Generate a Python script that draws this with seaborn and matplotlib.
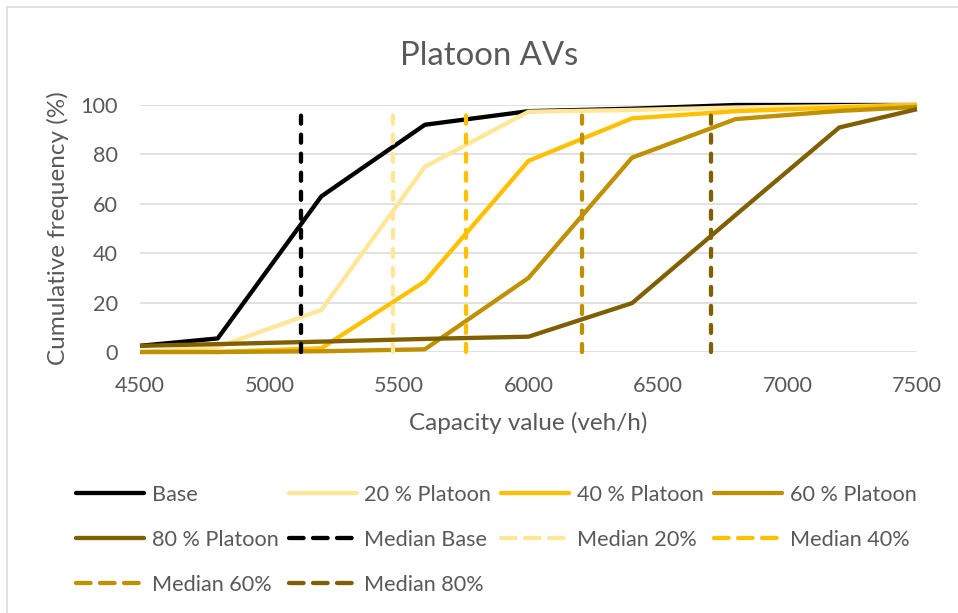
import matplotlib
matplotlib.use("Agg")
import matplotlib.pyplot as plt
from matplotlib.lines import Line2D
import seaborn as sns
import pandas as pd

# Capacity values (veh/h) and cumulative frequencies (%) per scenario
capacity = [4500, 4800, 5200, 5600, 6000, 6400, 6800, 7200, 7500]
base = [2.5, 5.5, 63, 92, 97.5, 98.5, 100, 100, 100]
platoon_20 = [0, 2, 17, 75, 97.3, 98, 99, 99.5, 100]
platoon_40 = [0, 0, 1.5, 28.6, 77.4, 94.6, 97.5, 99, 100]
platoon_60 = [0, 0, 0.3, 1.1, 30, 78.7, 94.3, 97.6, 99.2]
platoon_80 = [2.5, 3.2, 4.2, 5.3, 6.2, 19.8, 55.5, 90.9, 98.3]

series_names = ["Base", "20 % Platoon", "40 % Platoon", "60 % Platoon", "80 % Platoon"]
median_names = ["Median Base", "Median 20%", "Median 40%", "Median 60%", "Median 80%"]
medians = [5120, 5475, 5760, 6205, 6705]
colors = ["#000000", "#FFE699", "#FFC000", "#BF9000", "#7F6000"]

x_ticks = [4500, 5000, 5500, 6000, 6500, 7000, 7500]
y_ticks = [0, 20, 40, 60, 80, 100]

W, H = 958, 613
TEXT = "#595959"

sns.set_theme(style="white")
plt.rcParams["font.family"] = ["Lato", "DejaVu Sans"]
plt.rcParams["lines.scale_dashes"] = False

df = pd.DataFrame({
    "capacity": capacity * 5,
    "freq": base + platoon_20 + platoon_40 + platoon_60 + platoon_80,
    "scenario": sum([[n] * len(capacity) for n in series_names], []),
})

fig = plt.figure(figsize=(W / 100, H / 100), dpi=100)
ax = fig.add_axes([140 / W, 1 - 352 / H, (917 - 140) / W, (352 - 105) / H])

sns.lineplot(data=df, x="capacity", y="freq", hue="scenario",
             hue_order=series_names, palette=colors, lw=3.1,
             legend=False, ax=ax, sort=False, clip_on=False,
             solid_joinstyle="round", solid_capstyle="butt")

for m, c in zip(medians, colors):
    ax.vlines(m, 0, 100, colors=c, lw=3.1, linestyles=(0, (5.8, 7.9)),
              capstyle="round", clip_on=False, zorder=4)

ax.set_xlim(4500, 7500)
ax.set_ylim(0, 100)
ax.set_xticks(x_ticks)
ax.set_yticks(y_ticks)
ax.set_xticklabels([str(v) for v in x_ticks])
ax.set_yticklabels([str(v) for v in y_ticks])
ax.tick_params(axis="both", length=0, labelsize=15.6, labelcolor=TEXT)
ax.tick_params(axis="x", pad=17)
ax.tick_params(axis="y", pad=16)
ax.grid(axis="y", color="#D9D9D9", lw=1.1)
ax.set_axisbelow(True)
for s in ax.spines.values():
    s.set_visible(False)
ax.set_xlabel("")
ax.set_ylabel("")

def px(x, y):
    return x / W, 1 - y / H

fig.text(*px(489.5, 64.6), "Platoon AVs", ha="center", va="baseline",
         fontsize=23.7, color=TEXT)
fig.text(*px(528, 430), "Capacity value (veh/h)", ha="center", va="baseline",
         fontsize=17.5, color=TEXT)
fig.text(*px(58, 228.5), "Cumulative frequency (%)", ha="center", va="center",
         rotation=90, fontsize=17.5, color=TEXT)

# Legend: 4 equal-width columns, 3 rows
entries = [(n, c, False) for n, c in zip(series_names, colors)] + \
          [(n, c, True) for n, c in zip(median_names, colors)]
row_y = [493.3, 538.3, 583.3]
for i, (name, c, dashed) in enumerate(entries):
    r, col = divmod(i, 4)
    x0 = 75 + 212.5 * col
    y = row_y[r]
    (xa, ya), (xb, _) = px(x0 + 1, y), px(x0 + 69, y)
    kw = dict(color=c, lw=3.1, transform=fig.transFigure,
              solid_capstyle="round", dash_capstyle="round")
    if dashed:
        kw["linestyle"] = (0, (10.5, 6.8))
    fig.add_artist(Line2D([xa, xb], [ya, ya], **kw))
    fig.text(*px(x0 + 77, y), name, ha="left", va="center_baseline",
             fontsize=15.6, color=TEXT)

# Chart-area frame (top and left edges)
frame = dict(color="#D9D9D9", lw=1.1, transform=fig.transFigure)
fig.add_artist(Line2D([7 / W, 1.0], [1 - 7 / H, 1 - 7 / H], **frame))
fig.add_artist(Line2D([7 / W, 7 / W], [0, 1 - 7 / H], **frame))

fig.savefig("out.png", dpi=100, facecolor="white")
